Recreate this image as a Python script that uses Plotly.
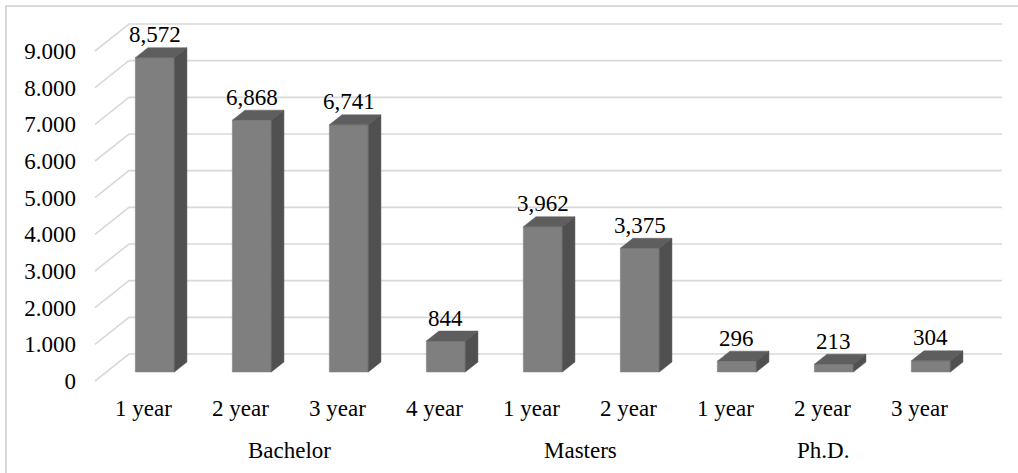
import plotly.graph_objects as go

# ---------------- data ----------------
groups = ["Bachelor", "Masters", "Ph.D."]
group_sizes = [4, 2, 3]
categories = ["1 year", "2 year", "3 year", "4 year",
              "1 year", "2 year",
              "1 year", "2 year", "3 year"]
values = [8572, 6868, 6741, 844, 3962, 3375, 296, 213, 304]
ytick_vals = [0, 1000, 2000, 3000, 4000, 5000, 6000, 7000, 8000, 9000]
ytick_text = ["0", "1.000", "2.000", "3.000", "4.000",
              "5.000", "6.000", "7.000", "8.000", "9.000"]

# ---------------- geometry / style ----------------
W, H = 1018, 473
L = 77                      # left margin (tick labels live there)
ZERO_PX = 381               # pixel row of value 0 on the front plane
PX_PER_UNIT = 330 / 9000    # vertical scale
CAT_W = 97                  # pixels per category
FLOOR_X0 = 95               # front-left corner of floor
DEPTH_DX, DEPTH_DY = 34, 27  # oblique depth of the floor (px)
BAR_W = 39
BAR_FRONT = 9 / 27          # fraction of depth in front of bars
BAR_DEPTH = 10 / 27         # fraction of depth occupied by bars

FONT = "Liberation Serif"
FS = 23
GRID = "#d9d9d9"
C_FRONT, C_TOP, C_SIDE = "#7f7f7f", "#5e5e5e", "#505050"


def pxv(px):
    """pixel distance -> value units"""
    return px / PX_PER_UNIT


y_max = pxv(ZERO_PX)
y_min = y_max - pxv(H)

fig = go.Figure()

# gridlines (diagonal on the side wall + horizontal on the back wall)
n = len(values)
wall_x0 = FLOOR_X0 + DEPTH_DX
wall_x1 = wall_x0 + CAT_W * n
for t in ytick_vals:
    fig.add_trace(go.Scatter(
        x=[FLOOR_X0, wall_x0, wall_x1],
        y=[t, t + pxv(DEPTH_DY), t + pxv(DEPTH_DY)],
        mode="lines", line=dict(color=GRID, width=1.6),
        hoverinfo="skip", showlegend=False))

annotations = []
base = pxv(DEPTH_DY * BAR_FRONT)
bdx = DEPTH_DX * BAR_DEPTH
bdy = pxv(DEPTH_DY * BAR_DEPTH)
for i, (cat, v) in enumerate(zip(categories, values)):
    cx = FLOOR_X0 + CAT_W * (i + 0.5)
    fx = cx + DEPTH_DX * BAR_FRONT
    x0, x1 = fx - BAR_W / 2, fx + BAR_W / 2
    top = base + v
    faces = [
        ([x0, x1, x1, x0, x0], [base, base, top, top, base], C_FRONT),
        ([x0, x1, x1 + bdx, x0 + bdx, x0], [top, top, top + bdy, top + bdy, top], C_TOP),
        ([x1, x1 + bdx, x1 + bdx, x1, x1], [base, base + bdy, top + bdy, top, base], C_SIDE),
    ]
    for xs, ys, c in faces:
        fig.add_trace(go.Scatter(
            x=xs, y=ys, mode="lines", fill="toself", fillcolor=c,
            line=dict(color=c, width=0.5), hoverinfo="skip", showlegend=False))
    annotations.append(dict(
        x=fx, y=top, xref="x", yref="y", text=f"{v:,}", showarrow=False,
        yanchor="middle", yshift=23, font=dict(family=FONT, size=FS, color="black")))
    annotations.append(dict(
        x=cx, y=-pxv(408 - ZERO_PX), xref="x", yref="y", text=cat, showarrow=False,
        yanchor="middle", font=dict(family=FONT, size=FS, color="black")))

start = 0
for g, s in zip(groups, group_sizes):
    gx = FLOOR_X0 + CAT_W * (start + s / 2)
    annotations.append(dict(
        x=gx, y=-pxv(450 - ZERO_PX), xref="x", yref="y", text=g, showarrow=False,
        yanchor="middle", font=dict(family=FONT, size=FS, color="black")))
    start += s

# outer chart border
shapes = [dict(type="rect", xref="paper", yref="paper",
               x0=(6 - L) / (W - L), x1=(W + 4 - L) / (W - L),
               y0=-0.02, y1=1 - 6 / H,
               line=dict(color="#d0d0d0", width=1.6))]

fig.update_layout(
    width=W, height=H,
    margin=dict(l=L, r=0, t=0, b=0),
    paper_bgcolor="white", plot_bgcolor="white",
    showlegend=False,
    font=dict(family=FONT, size=FS, color="black"),
    annotations=annotations, shapes=shapes,
    xaxis=dict(range=[L, W], visible=False, fixedrange=True),
    yaxis=dict(range=[y_min, y_max], tickmode="array",
               tickvals=ytick_vals, ticktext=ytick_text,
               showgrid=False, zeroline=False, showline=False,
               ticks="", tickfont=dict(family=FONT, size=FS, color="black"),
               fixedrange=True),
)

fig.write_html("out.html")
